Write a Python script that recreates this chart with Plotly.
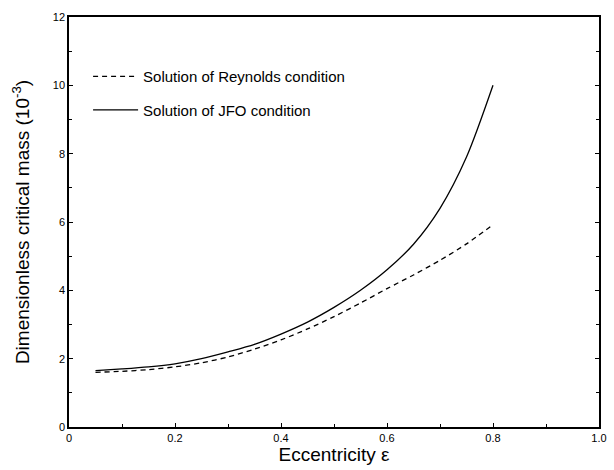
import plotly.graph_objects as go

ecc = [0.05, 0.1, 0.15, 0.2, 0.25, 0.3, 0.35, 0.4, 0.45, 0.5, 0.55, 0.6, 0.65, 0.7, 0.75, 0.8]
reynolds = [1.6, 1.63, 1.68, 1.76, 1.88, 2.05, 2.28, 2.55, 2.87, 3.23, 3.63, 4.05, 4.45, 4.88, 5.36, 5.92]
jfo = [1.65, 1.7, 1.76, 1.85, 2.0, 2.2, 2.42, 2.72, 3.07, 3.5, 4.0, 4.6, 5.35, 6.4, 7.9, 10.0]

x_ticks = [0, 0.2, 0.4, 0.6, 0.8, 1.0]
x_labels = ["0", "0.2", "0.4", "0.6", "0.8", "1.0"]
y_ticks = [0, 2, 4, 6, 8, 10, 12]
y_labels = ["0", "2", "4", "6", "8", "10", "12"]

FONT = "Liberation Sans, Arial, sans-serif"

fig = go.Figure()
fig.add_trace(go.Scatter(x=ecc, y=reynolds, mode="lines", name="Solution of Reynolds condition",
                         line=dict(color="black", width=1.3, dash="5px,4px", shape="spline", smoothing=0.8),
                         legendgroup="a"))
fig.add_trace(go.Scatter(x=ecc, y=jfo, mode="lines", name="Solution of JFO condition",
                         line=dict(color="black", width=1.3, shape="spline", smoothing=0.8),
                         legendgroup="b"))

fig.update_layout(
    width=614, height=470,
    margin=dict(l=69, r=7, t=17, b=43),
    paper_bgcolor="white", plot_bgcolor="white",
    font=dict(family=FONT, color="black", size=11),
    legend=dict(x=0.036, y=0.895, xanchor="left", yanchor="top",
                font=dict(size=15, family=FONT), bgcolor="rgba(0,0,0,0)",
                tracegroupgap=11, itemwidth=45),
    xaxis=dict(range=[0, 1.0], tickvals=x_ticks, ticktext=x_labels,
               ticks="inside", ticklen=4, tickcolor="black",
               minor=dict(dtick=0.1, ticks="inside", ticklen=3, tickcolor="black"),
               showline=True, linecolor="black", linewidth=1.5, mirror=True,
               showgrid=False, zeroline=False,
               title=dict(text="Eccentricity ε", font=dict(size=19, family=FONT), standoff=4),
               tickfont=dict(size=11)),
    yaxis=dict(range=[0, 12], tickvals=y_ticks, ticktext=y_labels,
               ticks="inside", ticklen=4, tickcolor="black",
               minor=dict(dtick=1, ticks="inside", ticklen=3, tickcolor="black"),
               showline=True, linecolor="black", linewidth=1.5, mirror="allticks",
               showgrid=False, zeroline=False,
               title=dict(text="Dimensionless critical mass (10<sup>-3</sup>)",
                          font=dict(size=19, family=FONT), standoff=18),
               tickfont=dict(size=11)),
)

fig.write_html("out.html")
